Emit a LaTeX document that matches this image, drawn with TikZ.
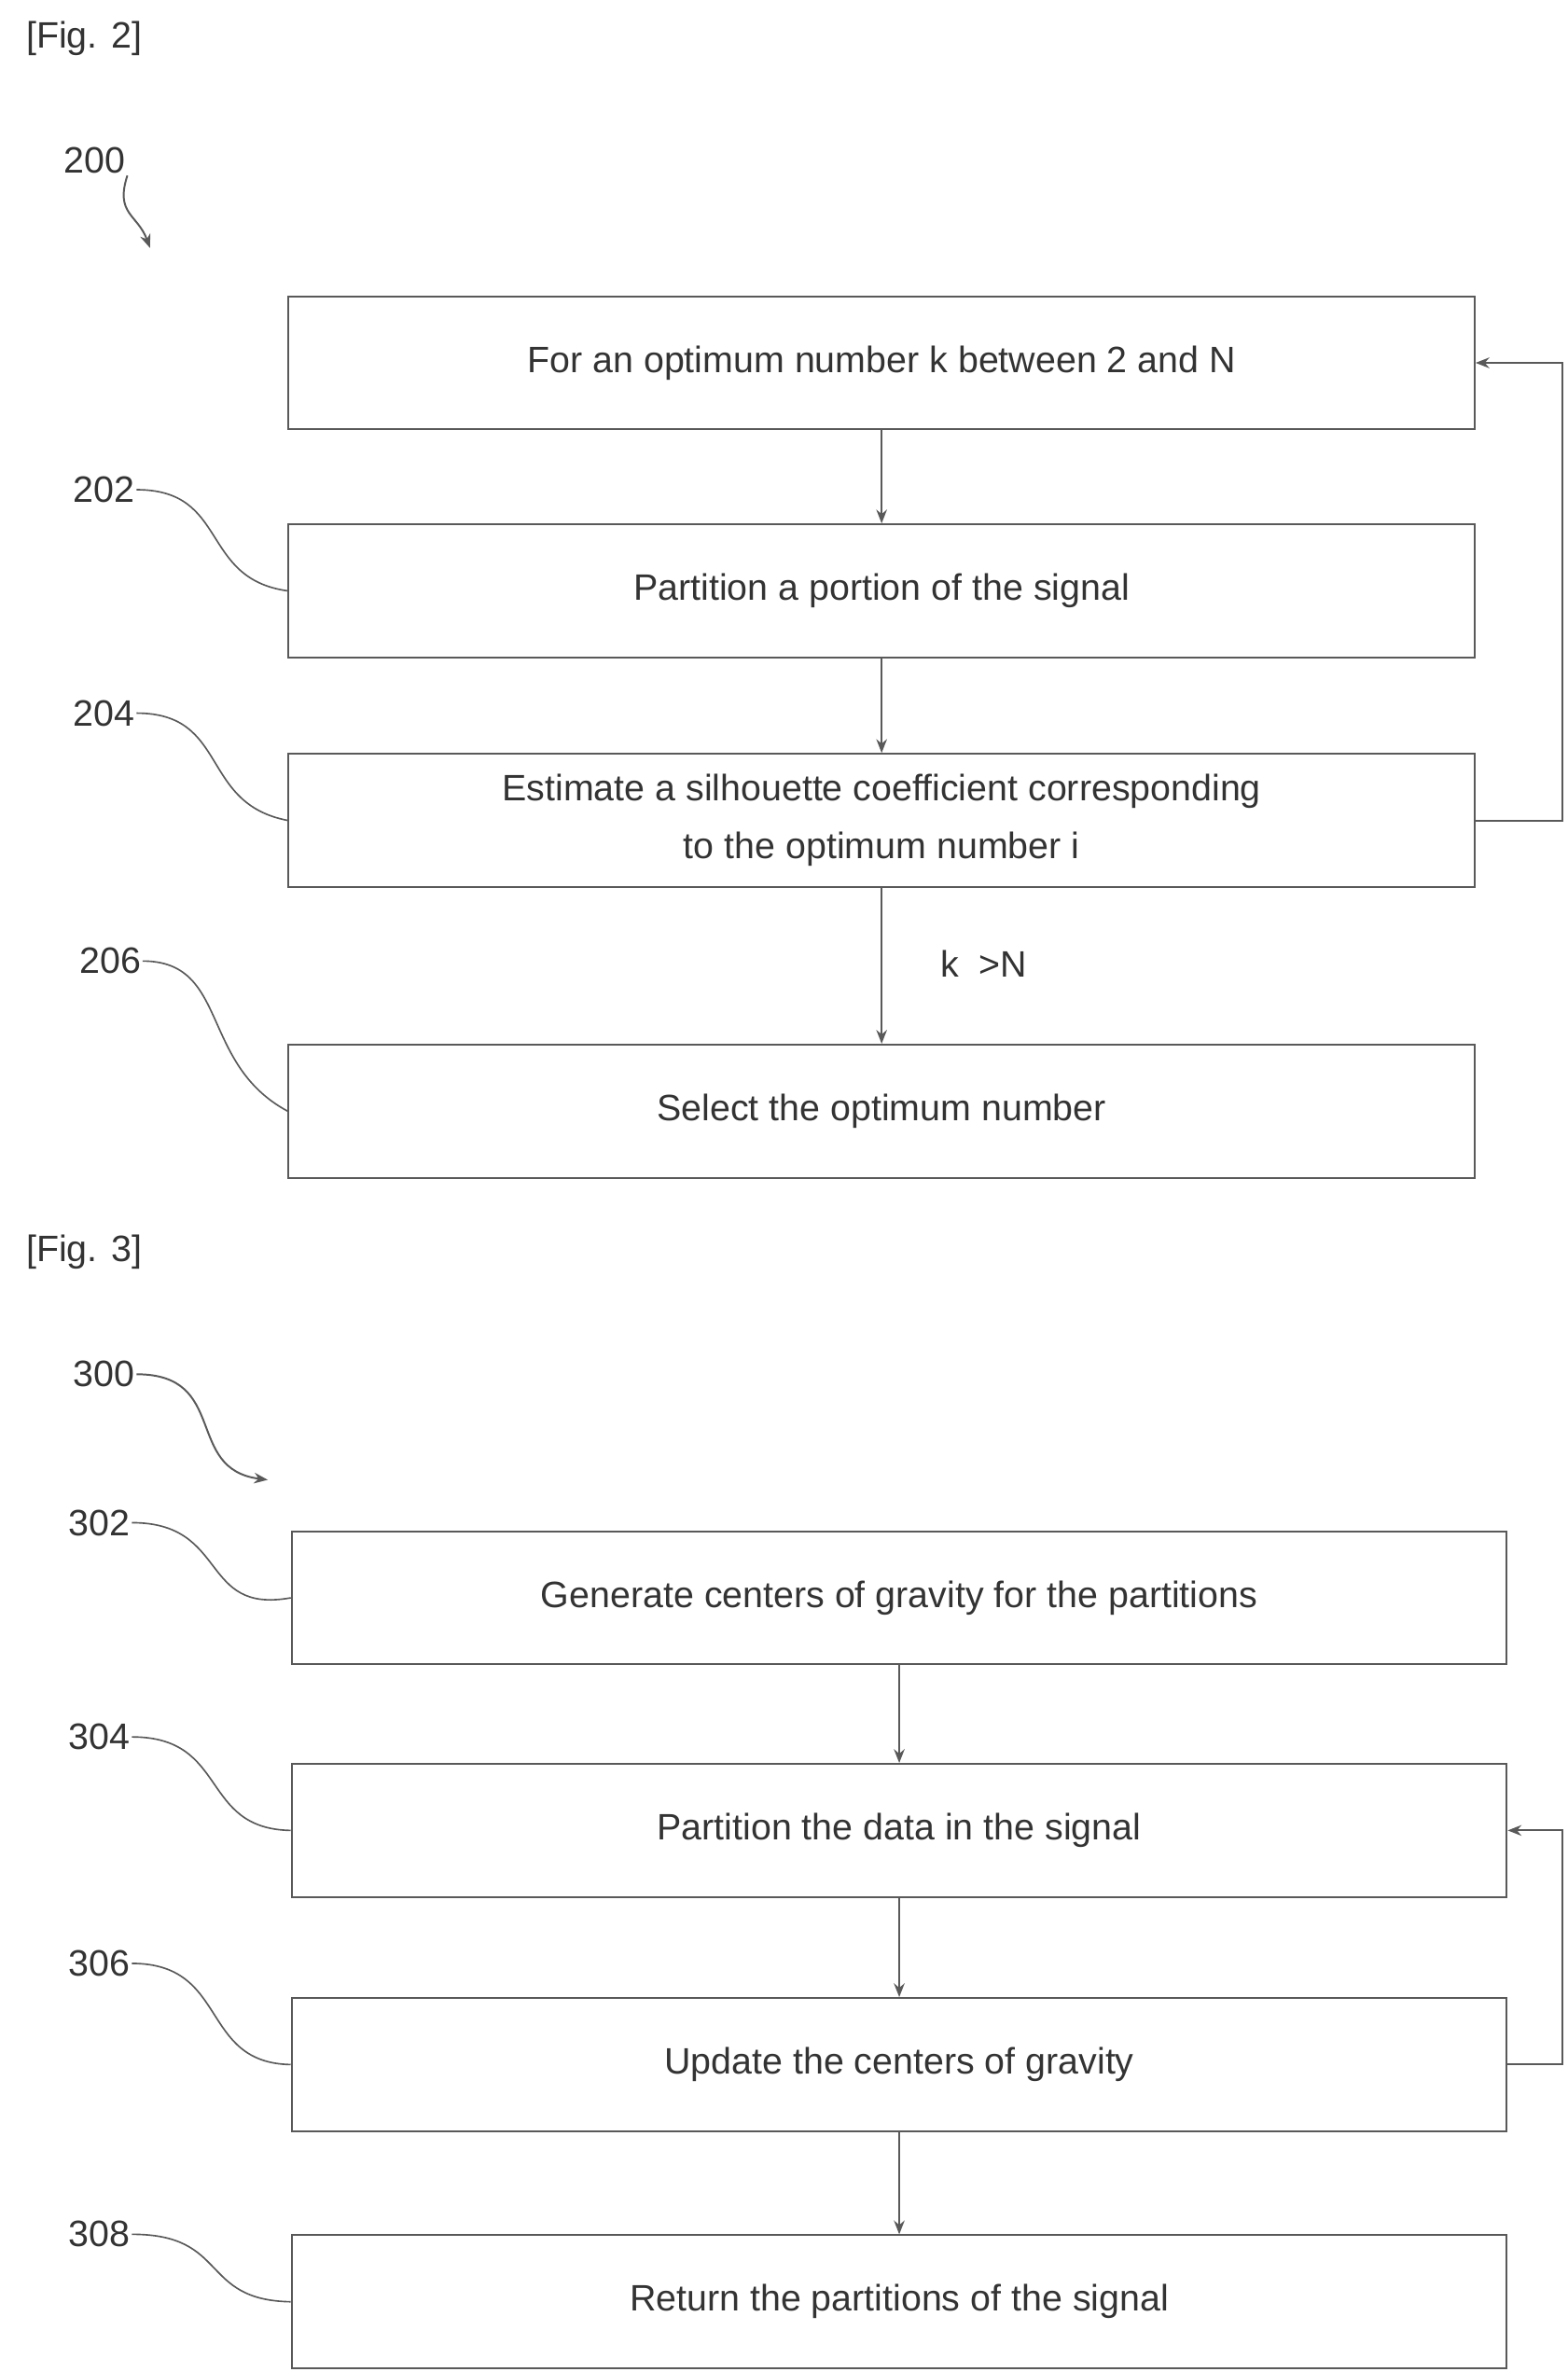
\documentclass[tikz,border=0pt]{standalone}
\usepackage{fontspec}
\setmainfont{Liberation Sans}
\usetikzlibrary{arrows.meta}
\begin{document}
\begin{tikzpicture}[x=1pt,y=-1pt,
  box/.style={draw=black!65,line width=1.2pt,minimum width=775pt,minimum height=87pt,inner sep=0pt,align=center,font=\fontsize{24}{38}\selectfont,text=black!80},
  box3/.style={box,minimum width=794pt},
  lab/.style={font=\fontsize{24}{28}\selectfont,text=black!80,inner sep=1pt},
  arr/.style={draw=black!65,line width=1.2pt,-{Stealth[length=9pt,width=7pt]}},
  sq/.style={draw=black!65,line width=1pt}]
\useasboundingbox (0,0) rectangle (1024,1550);
\node[lab] (f2) at (55,25) {[Fig. 2]};
\node[lab] (n200) at (62,105) {200};
\node[box,anchor=north west] (b1) at (188,193) {For an optimum number k between 2 and N};
\node[box,anchor=north west] (b2) at (188,342) {Partition a portion of the signal};
\node[box,anchor=north west] (b3) at (188,492) {Estimate a silhouette coefficient corresponding\\to the optimum number i};
\node[box,anchor=north west] (b4) at (188,682) {Select the optimum number};
\node[lab] (n202) at (68,320) {202};
\node[lab] (n204) at (68,466) {204};
\node[lab] (n206) at (72,628) {206};
\node[lab] (kn) at (643,630) {k\ \ >N};
\coordinate (a200) at (98,162);
\draw[arr] (n200.south east) .. controls (75,140) and (90,140) .. (a200);
\draw[arr] (b1.south) -- (b2.north);
\draw[arr] (b2.south) -- (b3.north);
\draw[arr] (b3.south) -- (b4.north);
\draw[arr] (b3.east) -- ++(57,0) |- (b1.east);
\draw[sq] (n202.east) .. controls (150,320) and (130,378) .. (b2.west);
\draw[sq] (n204.east) .. controls (150,466) and (130,525) .. (b3.west);
\draw[sq] (n206.east) .. controls (150,628) and (130,695) .. (b4.west);
\node[lab] (f3) at (55,818) {[Fig. 3]};
\node[lab] (n300) at (68,898) {300};
\coordinate (a300) at (175,967);
\draw[arr] (n300.east) .. controls (150,898) and (120,960) .. (a300);
\node[box3,anchor=north west] (c1) at (190,1000) {Generate centers of gravity for the partitions};
\node[box3,anchor=north west] (c2) at (190,1152) {Partition the data in the signal};
\node[box3,anchor=north west] (c3) at (190,1305) {Update the centers of gravity};
\node[box3,anchor=north west] (c4) at (190,1460) {Return the partitions of the signal};
\node[lab] (n302) at (65,995) {302};
\node[lab] (n304) at (65,1135) {304};
\node[lab] (n306) at (65,1283) {306};
\node[lab] (n308) at (65,1460) {308};
\draw[arr] (c1.south) -- (c2.north);
\draw[arr] (c2.south) -- (c3.north);
\draw[arr] (c3.south) -- (c4.north);
\draw[arr] (c3.east) -- ++(36,0) |- (c2.east);
\draw[sq] (n302.east) .. controls (150,995) and (130,1055) .. (c1.west);
\draw[sq] (n304.east) .. controls (150,1135) and (130,1195) .. (c2.west);
\draw[sq] (n306.east) .. controls (150,1283) and (130,1348) .. (c3.west);
\draw[sq] (n308.east) .. controls (150,1460) and (130,1503) .. (c4.west);
\end{tikzpicture}
\end{document}
